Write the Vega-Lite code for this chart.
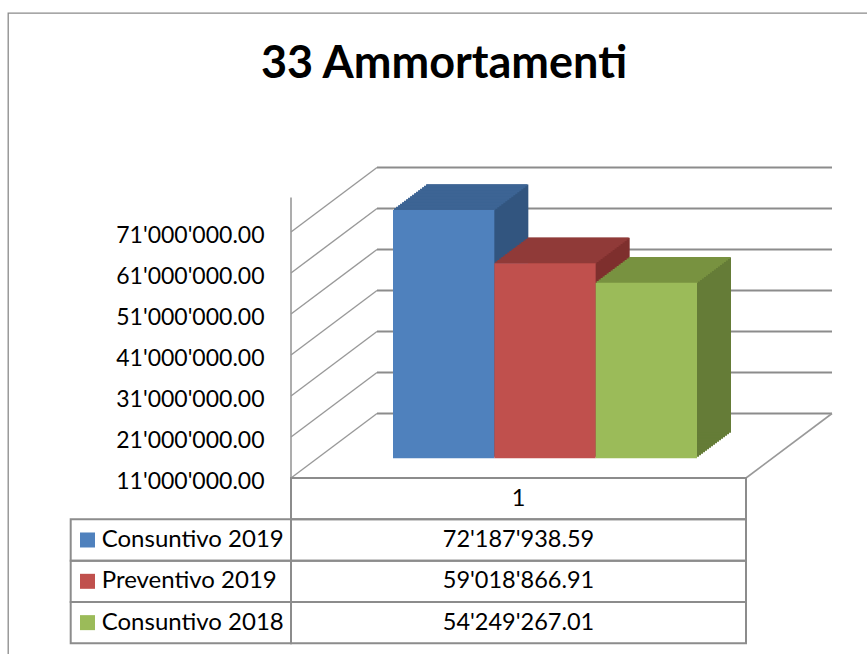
{
  "$schema": "https://vega.github.io/schema/vega-lite/v6.json",
  "width": 862,
  "height": 644,
  "autosize": "none",
  "padding": {"left": 8, "top": 13, "right": -3, "bottom": -3},
  "background": "white",
  "config": {
    "view": {"stroke": "#8a8a8a", "strokeWidth": 1.3},
    "font": "Lato",
    "locale": {"number": {"decimal": ".", "thousands": "'", "grouping": [3], "currency": ["", ""]}}
  },
  "title": {
    "text": "33 Ammortamenti",
    "font": "Lato",
    "fontSize": 45,
    "fontWeight": "bold",
    "color": "black",
    "anchor": "middle",
    "frame": "group",
    "baseline": "alphabetic",
    "offset": -110,
    "dx": 5
  },
  "datasets": {
    "serie": [
      {"categoria": "1", "serie": "Consuntivo 2019", "valore": 72187938.59},
      {"categoria": "1", "serie": "Preventivo 2019", "valore": 59018866.91},
      {"categoria": "1", "serie": "Consuntivo 2018", "valore": 54249267.01}
    ],
    "griglia": [
      {"v": 11000000}, {"v": 21000000}, {"v": 31000000}, {"v": 41000000},
      {"v": 51000000}, {"v": 61000000}, {"v": 71000000}
    ]
  },
  "resolve": {"scale": {"x": "independent", "y": "independent", "color": "independent"}},
  "layer": [
    {
      "data": {"name": "griglia"},
      "encoding": {
        "y": {
          "field": "v", "type": "quantitative",
          "scale": {"domain": [11000000, 71000000], "range": [465, 219], "nice": false, "zero": false},
          "axis": {
            "values": [11000000, 21000000, 31000000, 41000000, 51000000, 61000000, 71000000],
            "format": ",.2f", "domain": false, "ticks": false, "grid": false, "title": null,
            "labelFont": "Lato", "labelFontSize": 23, "labelColor": "black",
            "labelPadding": 0, "offset": -256, "labelOffset": 3
          }
        }
      },
      "layer": [
        {
          "mark": {"type": "rule", "color": "#8c8c8c", "strokeWidth": 2, "xOffset": 86, "x2Offset": 86, "yOffset": -64.5},
          "encoding": {
            "x": {"datum": 0, "type": "quantitative", "scale": {"domain": [0, 1], "range": [283, 738]}, "axis": null},
            "x2": {"datum": 1}
          }
        },
        {
          "mark": {"type": "rule", "color": "#999999", "strokeWidth": 1.4, "x2Offset": 86, "y2Offset": -64.5},
          "encoding": {
            "x": {"datum": 0, "type": "quantitative", "scale": {"domain": [0, 1], "range": [283, 738]}, "axis": null},
            "x2": {"datum": 0},
            "y2": {"field": "v"}
          }
        },
        {
          "transform": [{"filter": "datum.v == 11000000"}],
          "mark": {"type": "rule", "color": "#999999", "strokeWidth": 1.6},
          "encoding": {
            "x": {"datum": 0, "type": "quantitative", "scale": {"domain": [0, 1], "range": [283, 738]}, "axis": null},
            "y2": {"datum": 79400000}
          }
        },
        {
          "transform": [{"filter": "datum.v == 11000000"}],
          "mark": {"type": "rule", "color": "#8c8c8c", "strokeWidth": 2},
          "encoding": {
            "x": {"datum": 0, "type": "quantitative", "scale": {"domain": [0, 1], "range": [283, 738]}, "axis": null},
            "x2": {"datum": 1}
          }
        },
        {
          "transform": [{"filter": "datum.v == 11000000"}],
          "mark": {"type": "rule", "color": "#999999", "strokeWidth": 1.6, "x2Offset": 86, "y2Offset": -64.5},
          "encoding": {
            "x": {"datum": 1, "type": "quantitative", "scale": {"domain": [0, 1], "range": [283, 738]}, "axis": null},
            "x2": {"datum": 1},
            "y2": {"field": "v"}
          }
        }
      ]
    },
    {
      "data": {"name": "serie"},
      "encoding": {
        "x": {"field": "serie", "type": "nominal", "sort": null,
              "scale": {"domain": ["Consuntivo 2019", "Preventivo 2019", "Consuntivo 2018"], "range": [385, 689], "paddingInner": 0, "paddingOuter": 0},
              "axis": null},
        "y": {"field": "valore", "type": "quantitative",
              "scale": {"domain": [11000000, 71000000], "range": [445.3, 201.7], "nice": false, "zero": false},
              "axis": null}
      },
      "resolve": {"scale": {"color": "independent"}},
      "layer": [
        {
          "encoding": {
            "y2": {"datum": 11000000},
            "color": {"field": "serie", "type": "nominal",
                      "scale": {"domain": ["Consuntivo 2019", "Preventivo 2019", "Consuntivo 2018"], "range": ["#32557f", "#7e2f2d", "#657c37"]},
                      "legend": null}
          },
          "layer": [
            {"mark": {"type": "bar", "opacity": 1, "xOffset": 2, "yOffset": -1.5, "y2Offset": -1.5}},
            {"mark": {"type": "bar", "opacity": 1, "xOffset": 4, "yOffset": -3, "y2Offset": -3}},
            {"mark": {"type": "bar", "opacity": 1, "xOffset": 6, "yOffset": -4.5, "y2Offset": -4.5}},
            {"mark": {"type": "bar", "opacity": 1, "xOffset": 8, "yOffset": -6, "y2Offset": -6}},
            {"mark": {"type": "bar", "opacity": 1, "xOffset": 10, "yOffset": -7.5, "y2Offset": -7.5}},
            {"mark": {"type": "bar", "opacity": 1, "xOffset": 12, "yOffset": -9, "y2Offset": -9}},
            {"mark": {"type": "bar", "opacity": 1, "xOffset": 14, "yOffset": -10.5, "y2Offset": -10.5}},
            {"mark": {"type": "bar", "opacity": 1, "xOffset": 16, "yOffset": -12, "y2Offset": -12}},
            {"mark": {"type": "bar", "opacity": 1, "xOffset": 18, "yOffset": -13.5, "y2Offset": -13.5}},
            {"mark": {"type": "bar", "opacity": 1, "xOffset": 20, "yOffset": -15, "y2Offset": -15}},
            {"mark": {"type": "bar", "opacity": 1, "xOffset": 22, "yOffset": -16.5, "y2Offset": -16.5}},
            {"mark": {"type": "bar", "opacity": 1, "xOffset": 24, "yOffset": -18, "y2Offset": -18}},
            {"mark": {"type": "bar", "opacity": 1, "xOffset": 26, "yOffset": -19.5, "y2Offset": -19.5}},
            {"mark": {"type": "bar", "opacity": 1, "xOffset": 28, "yOffset": -21, "y2Offset": -21}},
            {"mark": {"type": "bar", "opacity": 1, "xOffset": 30, "yOffset": -22.5, "y2Offset": -22.5}},
            {"mark": {"type": "bar", "opacity": 1, "xOffset": 32, "yOffset": -24, "y2Offset": -24}},
            {"mark": {"type": "bar", "opacity": 1, "xOffset": 34, "yOffset": -25.5, "y2Offset": -25.5}}
          ]
        },
        {
          "encoding": {
            "color": {"field": "serie", "type": "nominal",
                      "scale": {"domain": ["Consuntivo 2019", "Preventivo 2019", "Consuntivo 2018"], "range": ["#3d6494", "#903a38", "#789240"]},
                      "legend": null}
          },
          "layer": [
            {"mark": {"type": "tick", "orient": "horizontal", "opacity": 1, "thickness": 2, "size": 101.33, "xOffset": 1, "yOffset": -0.75}},
            {"mark": {"type": "tick", "orient": "horizontal", "opacity": 1, "thickness": 2, "size": 101.33, "xOffset": 3, "yOffset": -2.25}},
            {"mark": {"type": "tick", "orient": "horizontal", "opacity": 1, "thickness": 2, "size": 101.33, "xOffset": 5, "yOffset": -3.75}},
            {"mark": {"type": "tick", "orient": "horizontal", "opacity": 1, "thickness": 2, "size": 101.33, "xOffset": 7, "yOffset": -5.25}},
            {"mark": {"type": "tick", "orient": "horizontal", "opacity": 1, "thickness": 2, "size": 101.33, "xOffset": 9, "yOffset": -6.75}},
            {"mark": {"type": "tick", "orient": "horizontal", "opacity": 1, "thickness": 2, "size": 101.33, "xOffset": 11, "yOffset": -8.25}},
            {"mark": {"type": "tick", "orient": "horizontal", "opacity": 1, "thickness": 2, "size": 101.33, "xOffset": 13, "yOffset": -9.75}},
            {"mark": {"type": "tick", "orient": "horizontal", "opacity": 1, "thickness": 2, "size": 101.33, "xOffset": 15, "yOffset": -11.25}},
            {"mark": {"type": "tick", "orient": "horizontal", "opacity": 1, "thickness": 2, "size": 101.33, "xOffset": 17, "yOffset": -12.75}},
            {"mark": {"type": "tick", "orient": "horizontal", "opacity": 1, "thickness": 2, "size": 101.33, "xOffset": 19, "yOffset": -14.25}},
            {"mark": {"type": "tick", "orient": "horizontal", "opacity": 1, "thickness": 2, "size": 101.33, "xOffset": 21, "yOffset": -15.75}},
            {"mark": {"type": "tick", "orient": "horizontal", "opacity": 1, "thickness": 2, "size": 101.33, "xOffset": 23, "yOffset": -17.25}},
            {"mark": {"type": "tick", "orient": "horizontal", "opacity": 1, "thickness": 2, "size": 101.33, "xOffset": 25, "yOffset": -18.75}},
            {"mark": {"type": "tick", "orient": "horizontal", "opacity": 1, "thickness": 2, "size": 101.33, "xOffset": 27, "yOffset": -20.25}},
            {"mark": {"type": "tick", "orient": "horizontal", "opacity": 1, "thickness": 2, "size": 101.33, "xOffset": 29, "yOffset": -21.75}},
            {"mark": {"type": "tick", "orient": "horizontal", "opacity": 1, "thickness": 2, "size": 101.33, "xOffset": 31, "yOffset": -23.25}},
            {"mark": {"type": "tick", "orient": "horizontal", "opacity": 1, "thickness": 2, "size": 101.33, "xOffset": 33, "yOffset": -24.75}}
          ]
        },
        {
          "mark": {"type": "bar", "opacity": 1},
          "encoding": {
            "y2": {"datum": 11000000},
            "color": {"field": "serie", "type": "nominal",
                      "scale": {"domain": ["Consuntivo 2019", "Preventivo 2019", "Consuntivo 2018"], "range": ["#4f81bd", "#c0504d", "#9bbb59"]},
                      "legend": null}
          }
        }
      ]
    },
    {
      "data": {"name": "serie"},
      "resolve": {"scale": {"x": "independent", "color": "independent"}},
      "layer": [
        {
          "encoding": {
            "x": {"datum": 0, "type": "quantitative", "scale": {"domain": [0, 1], "range": [62.7, 283]}, "axis": null},
            "y": {"field": "serie", "type": "nominal",
                  "scale": {"domain": ["1", "Consuntivo 2019", "Preventivo 2019", "Consuntivo 2018"], "range": [465, 630.3], "paddingInner": 0, "paddingOuter": 0},
                  "axis": null}
          },
          "layer": [
            {
              "mark": {"type": "rect", "fill": "white", "fillOpacity": 0, "stroke": "#8c8c8c", "strokeWidth": 2},
              "encoding": {"x2": {"datum": 1}}
            },
            {
              "mark": {"type": "square", "size": 225, "opacity": 1, "xOffset": 16.8},
              "encoding": {
                "color": {"field": "serie", "type": "nominal",
                          "scale": {"domain": ["Consuntivo 2019", "Preventivo 2019", "Consuntivo 2018"], "range": ["#4f81bd", "#c0504d", "#9bbb59"]},
                          "legend": null}
              }
            },
            {
              "mark": {"type": "text", "align": "left", "baseline": "middle", "font": "Lato", "fontSize": 24, "color": "black", "xOffset": 31},
              "encoding": {"text": {"field": "serie", "type": "nominal"}}
            }
          ]
        },
        {
          "encoding": {
            "x": {"field": "categoria", "type": "nominal",
                  "scale": {"domain": ["1"], "range": [283, 738], "paddingInner": 0, "paddingOuter": 0},
                  "axis": null}
          },
          "layer": [
            {
              "mark": {"type": "rect", "fill": "white", "fillOpacity": 0, "stroke": "#8c8c8c", "strokeWidth": 2},
              "encoding": {
                "y": {"field": "serie", "type": "nominal",
                      "scale": {"domain": ["1", "Consuntivo 2019", "Preventivo 2019", "Consuntivo 2018"], "range": [465, 630.3], "paddingInner": 0, "paddingOuter": 0},
                      "axis": null}
              }
            },
            {
              "transform": [{"aggregate": [{"op": "count", "as": "n"}], "groupby": ["categoria"]}],
              "mark": {"type": "rect", "fill": "white", "fillOpacity": 0, "stroke": "#8c8c8c", "strokeWidth": 2},
              "encoding": {
                "y": {"field": "categoria", "type": "nominal",
                      "scale": {"domain": ["1", "Consuntivo 2019", "Preventivo 2019", "Consuntivo 2018"], "range": [465, 630.3], "paddingInner": 0, "paddingOuter": 0},
                      "axis": null}
              }
            },
            {
              "mark": {"type": "text", "align": "center", "baseline": "middle", "font": "Lato", "fontSize": 23.5, "color": "black"},
              "encoding": {
                "y": {"field": "serie", "type": "nominal",
                      "scale": {"domain": ["1", "Consuntivo 2019", "Preventivo 2019", "Consuntivo 2018"], "range": [465, 630.3], "paddingInner": 0, "paddingOuter": 0},
                      "axis": null},
                "text": {"field": "valore", "type": "quantitative", "format": ",.2f"}
              }
            },
            {
              "transform": [{"aggregate": [{"op": "count", "as": "n"}], "groupby": ["categoria"]}],
              "mark": {"type": "text", "align": "center", "baseline": "middle", "font": "Lato", "fontSize": 23.5, "color": "black"},
              "encoding": {
                "y": {"field": "categoria", "type": "nominal",
                      "scale": {"domain": ["1", "Consuntivo 2019", "Preventivo 2019", "Consuntivo 2018"], "range": [465, 630.3], "paddingInner": 0, "paddingOuter": 0},
                      "axis": null},
                "text": {"field": "categoria", "type": "nominal"}
              }
            }
          ]
        }
      ]
    }
  ]
}
